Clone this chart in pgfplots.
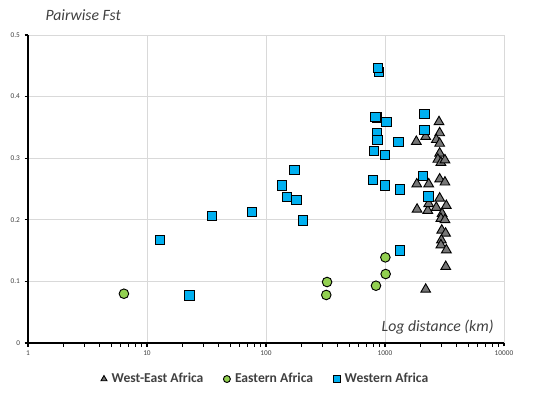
\documentclass[border=0pt]{standalone}
\usepackage{pgfplots}
\pgfplotsset{compat=1.18}
\usepackage{fontspec}
\setmainfont{Carlito}
\definecolor{wblue}{RGB}{0,176,240}
\definecolor{egreen}{RGB}{146,208,80}
\definecolor{tgray}{RGB}{118,118,118}
\definecolor{gridc}{RGB}{217,217,217}
\definecolor{labc}{RGB}{64,64,64}
\begin{document}
\begin{tikzpicture}
\path[use as bounding box] (-21pt,-38.25pt) rectangle (391.5pt,257.25pt);
\begin{axis}[
  at={(0,0)}, anchor=south west,
  scale only axis, width=357pt, height=231pt,
  xmode=log, xmin=1, xmax=10000, ymin=0, ymax=0.5,
  xtick={1,10,100,1000,10000},
  xticklabels={1,10,100,1000,10000},
  ytick={0,0.1,0.2,0.3,0.4,0.5},
  yticklabels={0,0.1,0.2,0.3,0.4,0.5},
  minor xtick={}, minor ytick={},
  /pgf/number format/assume math mode=true,
  tick label style={font=\fontsize{5.5}{6}\selectfont, text=labc},
  xmajorgrids, ymajorgrids,
  grid style={gridc, line width=0.6pt},
  axis x line*=bottom, axis y line*=left,
  axis line style={black, line width=1.1pt},
  tick align=outside, major tick length=2.5pt,
  tick style={black, line width=0.8pt},
  clip=false,
  legend columns=3,
  legend style={draw=none, fill=none, at={(0.5,-0.117)}, anchor=center,
    font=\fontsize{10.2}{12}\selectfont\bfseries, text=labc,
    /tikz/every even column/.append style={column sep=13pt},
    /tikz/every odd column/.append style={column sep=1.5pt}},
  legend image code/.code={\draw[mark size=2.6pt] plot coordinates {(0pt,0pt)};},
]
% West-East Africa (triangles)
\addplot[only marks, mark=triangle*, mark size=4.2pt, mark options={fill=tgray, draw=black, line width=0.7pt}] coordinates {
(1834,0.327) (2198,0.335) (2844,0.359) (2880,0.341) (2700,0.330) (2880,0.324)
(2880,0.308) (2780,0.298) (2950,0.293) (3190,0.297)
(1850,0.258) (2330,0.258) (2880,0.266) (3190,0.261)
(1860,0.217) (2290,0.215) (2330,0.226) (2700,0.220) (2880,0.235) (3276,0.223)
(3020,0.210) (2950,0.202) (3190,0.200) (3000,0.183) (3230,0.178)
(2980,0.167) (2950,0.159) (3280,0.151) (3240,0.124) (2198,0.087)
};
\addlegendentry{West-East Africa}
% Eastern Africa (circles)
\addplot[only marks, mark=*, mark size=3.6pt, mark options={fill=egreen, draw=black, line width=0.7pt}] coordinates {
(6.4,0.080) (326,0.099) (321,0.078) (840,0.093) (1013,0.112) (1007,0.139)
};
\addlegendentry{Eastern Africa}
% Western Africa (squares)
\addplot[only marks, mark=square*, mark size=3.5pt, mark options={fill=wblue, draw=black, line width=0.7pt}] coordinates {
(12.8,0.167) (22.8,0.077) (35.2,0.206) (76.7,0.213)
(137,0.256) (150,0.237) (173,0.281) (180,0.232) (205,0.199)
(885,0.440) (873,0.447)
(860,0.366) (829,0.367) (1026,0.359) (851,0.341) (863,0.330)
(803,0.312) (1000,0.305) (793,0.265) (1000,0.256)
(1294,0.326) (1328,0.249) (1328,0.150)
(2153,0.372) (2153,0.346) (2085,0.271) (2312,0.238)
};
\addlegendentry{Western Africa}
\node[anchor=west, font=\fontsize{11.8}{13}\selectfont\itshape, text=labc] at (rel axis cs:0.027,1.066) {Pairwise Fst};
\node[anchor=east, font=\fontsize{11.8}{13}\selectfont\itshape, text=labc] at (rel axis cs:0.988,0.052) {Log distance (km)};
\end{axis}
\end{tikzpicture}
\end{document}
